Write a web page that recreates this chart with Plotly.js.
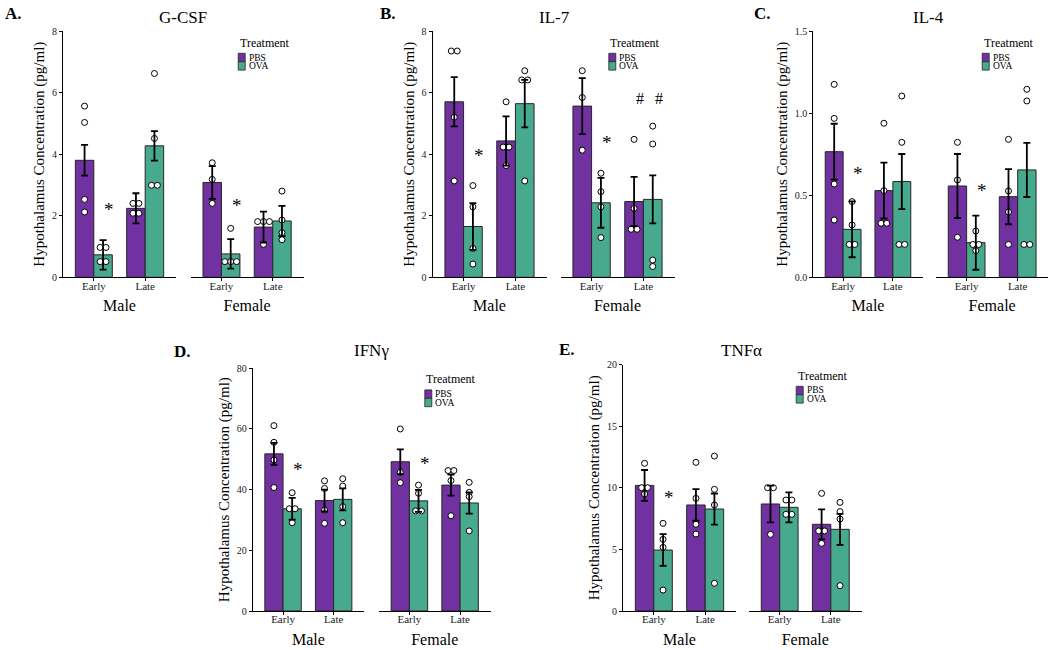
<!DOCTYPE html>
<html>
<head>
<meta charset="utf-8">
<script src="https://cdn.plot.ly/plotly-3.0.1.min.js"></script>
<style>html,body{margin:0;padding:0;background:#fff}#chart{width:1050px;height:650px}</style>
</head>
<body>
<div id="chart"></div>
<script>
// ---------- DATA ----------
const cytokines = ['G-CSF', 'IL-7', 'IL-4', 'IFNγ', 'TNFα'];
const panelLetters = ['A.', 'B.', 'C.', 'D.', 'E.'];
const sexes = ['Male', 'Female'];
const timepoints = ['Early', 'Late'];
const treatments = ['PBS', 'OVA'];
const yTitle = 'Hypothalamus Concentration (pg/ml)';
const yMax = [8, 8, 1.5, 80, 20];
const yTicks = [[0, 2, 4, 6, 8], [0, 2, 4, 6, 8], [0, 0.5, 1.0, 1.5], [0, 20, 40, 60, 80], [0, 5, 10, 15, 20]];

// order of entries: Male-Early, Male-Late, Female-Early, Female-Late
const gcsfPBSMean = [3.80, 2.24, 3.08, 1.63];
const gcsfOVAMean = [0.73, 4.27, 0.76, 1.83];
const gcsfPBSSem = [0.50, 0.49, 0.53, 0.50];
const gcsfOVASem = [0.48, 0.48, 0.48, 0.49];
const gcsfPBSPts = [[5.56, 5.03, 2.53, 2.12], [2.40, 2.40, 2.08, 2.08], [3.72, 3.18, 2.40], [1.81, 1.81, 1.81, 1.07]];
const gcsfOVAPts = [[0.97, 0.97, 0.51, 0.51], [6.62, 4.51, 2.99, 2.99], [1.59, 0.51, 0.51, 0.51], [2.80, 1.86, 1.45, 1.22]];

const il7PBSMean = [5.70, 4.43, 5.56, 2.46];
const il7OVAMean = [1.65, 5.64, 2.42, 2.53];
const il7PBSSem = [0.80, 0.80, 0.91, 0.80];
const il7OVASem = [0.76, 0.77, 0.81, 0.78];
const il7PBSPts = [[7.35, 7.35, 5.20, 3.13], [5.70, 4.23, 4.23, 3.63], [6.71, 5.84, 4.13], [4.48, 2.24, 1.56, 1.56]];
const il7OVAPts = [[2.98, 2.29, 0.94, 0.43], [6.71, 6.41, 6.41, 3.13], [3.38, 2.78, 2.29, 1.29], [4.91, 4.33, 0.56, 0.35]];

const il4PBSMean = [0.765, 0.528, 0.556, 0.491];
const il4OVAMean = [0.292, 0.583, 0.211, 0.654];
const il4PBSSem = [0.170, 0.170, 0.195, 0.168];
const il4OVASem = [0.170, 0.168, 0.165, 0.165];
const il4PBSPts = [[1.175, 0.968, 0.568, 0.349], [0.938, 0.528, 0.329, 0.329], [0.822, 0.593, 0.244], [0.840, 0.526, 0.398, 0.200]];
const il4OVAPts = [[0.461, 0.319, 0.200, 0.200], [1.104, 0.822, 0.200, 0.200], [0.282, 0.200, 0.200, 0.162], [1.145, 1.074, 0.200, 0.200]];

const ifngPBSMean = [51.8, 36.4, 49.2, 41.5];
const ifngOVAMean = [33.7, 36.8, 36.3, 35.6];
const ifngPBSSem = [3.6, 3.6, 4.1, 3.5];
const ifngOVASem = [3.6, 3.6, 3.6, 3.5];
const ifngPBSPts = [[61.1, 55.6, 49.8, 40.7], [42.9, 40.4, 33.3, 28.9], [60.0, 45.7, 42.3], [46.3, 46.3, 43.0, 31.4]];
const ifngOVAPts = [[39.0, 33.7, 33.7, 29.1], [43.6, 41.2, 34.4, 29.1], [41.5, 38.8, 33.0, 33.0], [42.4, 39.1, 37.7, 26.4]];

const tnfPBSMean = [10.2, 8.61, 8.69, 7.04];
const tnfOVAMean = [4.95, 8.28, 8.42, 6.63];
const tnfPBSSem = [1.25, 1.28, 1.49, 1.22];
const tnfOVASem = [1.29, 1.26, 1.22, 1.26];
const tnfPBSPts = [[11.99, 10.01, 10.01, 9.50], [12.07, 9.15, 7.04, 6.25], [10.01, 10.01, 6.22], [9.55, 6.50, 6.50, 5.49]];
const tnfOVAPts = [[7.12, 5.82, 5.17, 1.70], [12.58, 9.88, 8.61, 2.25], [9.01, 9.01, 7.85, 7.85], [8.82, 8.07, 7.47, 2.06]];

// significance marks
const sigPanel = [0, 0, 1, 1, 1, 1, 2, 2, 3, 3, 4];
const sigSex = [0, 1, 0, 1, 1, 1, 0, 1, 0, 1, 0];
const sigTime = [0, 0, 0, 0, 1, 1, 0, 0, 0, 0, 0];
const sigTrt = [1, 1, 1, 1, 0, 1, 1, 1, 1, 1, 1];
const sigY = [2.32, 2.46, 4.08, 4.51, 5.81, 5.81, 0.654, 0.552, 47.8, 49.8, 9.55];
const sigText = ['*', '*', '*', '*', '#', '#', '*', '*', '*', '*', '*'];

// ---------- ASSEMBLY ----------
const means = [[gcsfPBSMean, gcsfOVAMean], [il7PBSMean, il7OVAMean], [il4PBSMean, il4OVAMean], [ifngPBSMean, ifngOVAMean], [tnfPBSMean, tnfOVAMean]];
const sems = [[gcsfPBSSem, gcsfOVASem], [il7PBSSem, il7OVASem], [il4PBSSem, il4OVASem], [ifngPBSSem, ifngOVASem], [tnfPBSSem, tnfOVASem]];
const pts = [[gcsfPBSPts, gcsfOVAPts], [il7PBSPts, il7OVAPts], [il4PBSPts, il4OVAPts], [ifngPBSPts, ifngOVAPts], [tnfPBSPts, tnfOVAPts]];

const colors = ['#7131A1', '#47A98E'];
const fontFam = '"Liberation Serif", "Times New Roman", Times, serif';
const W = 1050, H = 650;
const X = p => p / W;
const Y = p => 1 - p / H;

// layout geometry (pixels)
const geom = [
  {male: [63, 176], female: [190.7, 303.5], y: [31, 277.3], letter: [3, 13], title: [183, 17], legend: [237.7, 42.7]},
  {male: [432.5, 546.5], female: [560.5, 674.5], y: [31, 277.3], letter: [378, 13], title: [554, 17], legend: [608.3, 42.7]},
  {male: [813.3, 922.7], female: [936, 1048.3], y: [31, 277.3], letter: [751.7, 13], title: [928.3, 17], legend: [981.7, 42.7]},
  {male: [252.7, 364], female: [379, 490.5], y: [368.3, 611], letter: [172, 351], title: [371.7, 350.7], legend: [424.3, 379.3]},
  {male: [623, 736], female: [749, 861.5], y: [364.7, 611], letter: [556.7, 349], title: [741.7, 350.7], legend: [795.7, 375.7]}
];

const bargap = 0.28;
const barW = (1 - bargap) / 2;
const trtOffset = [-barW / 2, barW / 2];
const dotStep = 0.115;

function stackOffsets(vals, step) {
  const counts = {}, seen = {};
  vals.forEach(v => { counts[v] = (counts[v] || 0) + 1; });
  return vals.map(v => {
    const k = seen[v] || 0; seen[v] = k + 1;
    return (k - (counts[v] - 1) / 2) * step;
  });
}

const xId = (i, s) => { const n = 2 * i + s + 1; return n === 1 ? 'x' : 'x' + n; };
const yId = i => i === 0 ? 'y' : 'y' + (i + 1);
const axKey = id => id[0] + 'axis' + id.slice(1);

const layout = {
  width: W, height: H,
  margin: {l: 0, r: 0, t: 0, b: 0},
  paper_bgcolor: 'white', plot_bgcolor: 'rgba(0,0,0,0)',
  showlegend: false,
  barmode: 'group', bargap: bargap, bargroupgap: 0,
  font: {family: fontFam, color: 'black'},
  annotations: [], shapes: []
};

const barTraces = [], ptTraces = [], errTraces = [];

cytokines.forEach((cyt, i) => {
  const g = geom[i];
  const yid = yId(i);
  layout[axKey(yid)] = {
    domain: [Y(g.y[1]), Y(g.y[0])],
    anchor: xId(i, 0),
    range: [0, yMax[i]],
    tickvals: yTicks[i],
    tickformat: yMax[i] < 2 ? '.1f' : 'd',
    showline: true, linecolor: 'black', linewidth: 1,
    ticks: 'outside', ticklen: 3, tickcolor: 'black', tickwidth: 1,
    showgrid: false, zeroline: false,
    tickfont: {family: fontFam, size: 10, color: '#222'},
    title: {text: yTitle, font: {family: fontFam, size: 15, color: 'black'}, standoff: 3}
  };
  sexes.forEach((sex, s) => {
    const xid = xId(i, s);
    const dom = s === 0 ? g.male : g.female;
    layout[axKey(xid)] = {
      domain: [X(dom[0]), X(dom[1])],
      anchor: yid,
      range: [-0.6, 1.6],
      tickvals: [0, 1], ticktext: timepoints,
      showline: true, linecolor: 'black', linewidth: 1,
      ticks: 'outside', ticklen: 3, tickcolor: 'black', tickwidth: 1,
      ticklabelstandoff: -5,
      showgrid: false, zeroline: false,
      tickfont: {family: fontFam, size: 11, color: '#222'},
      title: {text: sex, font: {family: fontFam, size: 16, color: 'black'}, standoff: 9}
    };
    treatments.forEach((trt, t) => {
      const yv = [means[i][t][2 * s], means[i][t][2 * s + 1]];
      const ev = [sems[i][t][2 * s], sems[i][t][2 * s + 1]];
      barTraces.push({
        type: 'bar', name: trt, x: [0, 1], y: yv,
        xaxis: xid, yaxis: yid, offsetgroup: trt,
        marker: {color: colors[t], line: {color: '#262626', width: 1}},
        showlegend: false, hoverinfo: 'y+name'
      });
      const px = [], py = [];
      timepoints.forEach((tp, k) => {
        const vals = pts[i][t][2 * s + k];
        const offs = stackOffsets(vals, dotStep);
        vals.forEach((v, j) => { px.push(k + trtOffset[t] + offs[j]); py.push(v); });
      });
      ptTraces.push({
        type: 'scatter', mode: 'markers', name: trt, x: px, y: py,
        xaxis: xid, yaxis: yid, cliponaxis: false,
        marker: {symbol: 'circle', size: 6, color: 'white', line: {color: 'black', width: 1}},
        showlegend: false, hoverinfo: 'y'
      });
      errTraces.push({
        type: 'scatter', mode: 'markers', name: trt,
        x: [0 + trtOffset[t], 1 + trtOffset[t]], y: yv,
        xaxis: xid, yaxis: yid,
        marker: {size: 1, color: 'rgba(0,0,0,0)'},
        error_y: {type: 'data', array: ev, visible: true, color: 'black', thickness: 1.8, width: 3.5},
        showlegend: false, hoverinfo: 'skip'
      });
    });
  });

  layout.annotations.push({
    text: '<b>' + panelLetters[i] + '</b>', xref: 'paper', yref: 'paper',
    x: X(g.letter[0]), y: Y(g.letter[1]), xanchor: 'left', yanchor: 'middle',
    showarrow: false, font: {family: fontFam, size: 17, color: 'black'}
  });
  layout.annotations.push({
    text: cyt, xref: 'paper', yref: 'paper',
    x: X(g.title[0]), y: Y(g.title[1]), xanchor: 'center', yanchor: 'middle',
    showarrow: false, font: {family: fontFam, size: 17, color: 'black'}
  });

  const [lx, ly] = g.legend;
  layout.annotations.push({
    text: 'Treatment', xref: 'paper', yref: 'paper', x: X(lx), y: Y(ly),
    xanchor: 'left', yanchor: 'middle', showarrow: false,
    font: {family: fontFam, size: 12, color: 'black'}
  });
  treatments.forEach((trt, t) => {
    const top = ly + 10.6 + t * 8.4;
    layout.shapes.push({
      type: 'rect', xref: 'paper', yref: 'paper',
      x0: X(lx + 0.5), x1: X(lx + 7.5), y0: Y(top + 8.4), y1: Y(top),
      fillcolor: colors[t], line: {color: '#262626', width: 0.8}
    });
    layout.annotations.push({
      text: trt, xref: 'paper', yref: 'paper', x: X(lx + 9), y: Y(top + 4.2),
      xanchor: 'left', yanchor: 'middle', showarrow: false,
      font: {family: fontFam, size: 9.5, color: 'black'}
    });
  });
});

sigPanel.forEach((p, k) => {
  layout.annotations.push({
    text: sigText[k], xref: xId(p, sigSex[k]), yref: yId(p),
    x: sigTime[k] + trtOffset[sigTrt[k]], y: sigY[k],
    xanchor: 'center', yanchor: 'middle', xshift: 6, yshift: sigText[k] === '*' ? -4 : 0,
    showarrow: false, font: {family: fontFam, size: sigText[k] === '*' ? 19 : 16, color: 'black'}
  });
});

Plotly.newPlot('chart', barTraces.concat(ptTraces, errTraces), layout, {displayModeBar: false, staticPlot: true});
</script>
</body>
</html>
